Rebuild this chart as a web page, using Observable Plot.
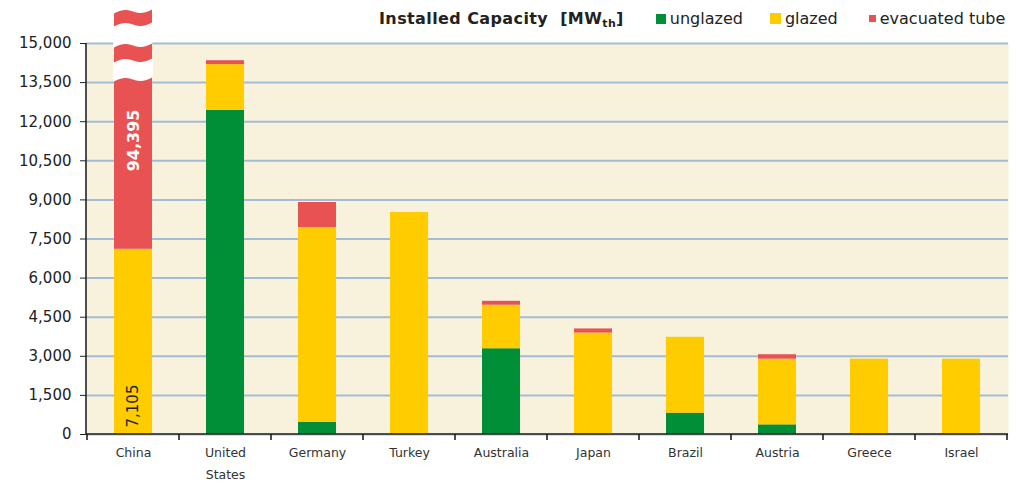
<!DOCTYPE html>
<html>
<head>
<meta charset="utf-8">
<script src="https://cdn.jsdelivr.net/npm/d3@7"></script>
<script src="https://cdn.jsdelivr.net/npm/@observablehq/plot@0.6"></script>
<style>
  body { margin: 0; background: #fff; font-family: "DejaVu Sans", sans-serif; }
  #wrap { position: relative; width: 1017px; height: 484px; }
  #legend { position: absolute; top: 9px; left: 379px; display: flex; align-items: center;
            font-size: 16px; color: #222; white-space: nowrap; line-height: 19px; }
  #legend .title { font-weight: bold; margin-right: 32px; font-size: 16px; letter-spacing: 0.4px; }
  #legend .title sub { font-size: 11px; vertical-align: -3px; line-height: 0; }
  #legend .sw { display: inline-block; margin-right: 4px; }
  #legend .item { display: flex; align-items: center; }
</style>
</head>
<body>
<div id="wrap">
  <div id="chart"></div>
  <div id="legend"></div>
</div>
<script>
// ---- data ----
const countries = ["China", "United States", "Germany", "Turkey", "Australia", "Japan", "Brazil", "Austria", "Greece", "Israel"];
const countryLabels = ["China", "United\nStates", "Germany", "Turkey", "Australia", "Japan", "Brazil", "Austria", "Greece", "Israel"];
const unglazed  = [0, 12430, 460, 0, 3290, 0, 820, 370, 0, 0];
const glazed    = [7105, 1760, 7480, 8515, 1670, 3890, 2910, 2520, 2890, 2890];
const evacuated = [94395, 150, 960, 0, 150, 160, 0, 170, 0, 0];
const seriesNames  = ["unglazed", "glazed", "evacuated tube"];
const seriesColors = ["#008e36", "#ffcc00", "#e85252"];
const yTicks = [0, 1500, 3000, 4500, 6000, 7500, 9000, 10500, 12000, 13500, 15000];
const axisMax = 15000;
const breakTop = 16400;   // display top of a bar that runs past the axis (axis break)

// ---- build stacked rows ----
const seriesValues = [unglazed, glazed, evacuated];
const rows = [];
countries.forEach((c, i) => {
  let base = 0;
  seriesNames.forEach((s, k) => {
    const v = seriesValues[k][i];
    if (v > 0) {
      rows.push({country: c, series: s, value: v, y1: base, y2: Math.min(base + v, breakTop)});
    }
    base += v;
  });
});
const labelMap = new Map(countries.map((c, i) => [c, countryLabels[i]]));

// value labels on the China bar
const valueLabels = [
  {country: "China", y: (glazed[0] + axisMax) / 2, text: d3.format(",")(evacuated[0]), kind: "big"},
  {country: "China", y: 0, text: d3.format(",")(glazed[0]), kind: "small"}
];

const pInner = 0.587, pOuter = pInner / 2;

// axis lines + boundary ticks on x
function axesMark(index, scales, values, dims) {
  const x = scales.x, y = scales.y;
  const step = x(countries[1]) - x(countries[0]);
  const bw = typeof x.bandwidth === "function" ? x.bandwidth() : step * (1 - pInner);
  const gap = (step - bw) / 2;
  const y0 = y(0);
  const g = d3.create("svg:g").attr("stroke", "#222").attr("stroke-width", 1.6);
  const bounds = countries.map(c => x(c) - gap).concat([x(countries[countries.length - 1]) + bw + gap]);
  for (const bx of bounds) {
    g.append("line").attr("x1", bx).attr("x2", bx).attr("y1", y0).attr("y2", y0 + 6);
  }
  g.append("line").attr("x1", dims.marginLeft).attr("x2", dims.width - dims.marginRight)
    .attr("y1", y0).attr("y2", y0);
  g.append("line").attr("x1", dims.marginLeft).attr("x2", dims.marginLeft)
    .attr("y1", dims.marginTop).attr("y2", y0);
  return g.node();
}

// wavy white break across the truncated China bar
function breakMark(index, scales, values, dims) {
  const x = scales.x, y = scales.y;
  const step = x(countries[1]) - x(countries[0]);
  const bw = typeof x.bandwidth === "function" ? x.bandwidth() : step * (1 - pInner);
  const x0 = x("China") - 0.8, x1 = x("China") + bw + 0.8;
  const top = y(axisMax);
  const N = 24, tilt = 5, amp = 2.6;
  const edge = base => d3.range(N + 1).map(j => {
    const t = j / N;
    return [x0 + (x1 - x0) * t, base - tilt * t - amp * Math.sin(2 * Math.PI * t)];
  });
  const band = (a, b) => {
    const e1 = edge(a), e2 = edge(b).reverse();
    return "M" + e1.concat(e2).map(p => p.join(",")).join("L") + "Z";
  };
  const g = d3.create("svg:g").attr("fill", "#fff");
  const topEdge = edge(top - 29);
  g.append("path").attr("d", "M" + [[x0, -10], [x1, -10]].concat(topEdge.slice().reverse()).map(p => p.join(",")).join("L") + "Z");
  g.append("path").attr("d", band(top - 16, top + 5));
  g.append("path").attr("d", band(top + 20, top + 39));
  return g.node();
}

const plot = Plot.plot({
  width: 1017,
  height: 484,
  marginLeft: 86,
  marginRight: 9,
  marginTop: 43,
  marginBottom: 50,
  style: {fontFamily: "DejaVu Sans, sans-serif", background: "transparent", overflow: "visible"},
  x: {domain: countries, paddingInner: pInner, paddingOuter: pOuter, label: null, axis: null},
  y: {domain: [0, axisMax], label: null, axis: null},
  color: {domain: seriesNames, range: seriesColors},
  marks: [
    Plot.frame({fill: "#f8f2dc", stroke: null}),
    Plot.gridY(yTicks, {stroke: "#a3bcd5", strokeOpacity: 1, strokeWidth: 2}),
    Plot.barY(rows, {x: "country", y1: "y1", y2: "y2", fill: "series"}),
    breakMark,
    Plot.text(valueLabels.filter(d => d.kind === "big"), {
      x: "country", y: "y", text: "text", rotate: -90, fill: "#fff",
      fontWeight: "bold", fontSize: 16, dy: -6
    }),
    Plot.text(valueLabels.filter(d => d.kind === "small"), {
      x: "country", y: "y", text: "text", rotate: -90, fill: "#222",
      fontSize: 15, textAnchor: "start", dy: -7
    }),
    Plot.axisY({ticks: yTicks, tickFormat: d3.format(","), tickSize: 6, tickPadding: 9,
                fontSize: 15, color: "#222", label: null}),
    Plot.axisX({tickSize: 0, tickPadding: 7, fontSize: 12.5, lineHeight: 1.75, color: "#333",
                tickFormat: d => labelMap.get(d), label: null}),
    axesMark
  ]
});
document.getElementById("chart").appendChild(plot);

// ---- legend ----
const legend = document.getElementById("legend");
const title = document.createElement("span");
title.className = "title";
title.innerHTML = "Installed Capacity&nbsp;&nbsp;[MW<sub>th</sub>]";
legend.appendChild(title);
const swSizes = [10, 11, 7];
const gapsAfter = [27, 31, 0];
seriesNames.forEach((s, k) => {
  const item = document.createElement("span");
  item.className = "item";
  item.style.marginRight = gapsAfter[k] + "px";
  const sw = document.createElement("span");
  sw.className = "sw";
  sw.style.width = swSizes[k] + "px";
  sw.style.height = swSizes[k] + "px";
  sw.style.background = seriesColors[k];
  const lab = document.createElement("span");
  lab.textContent = s;
  item.appendChild(sw);
  item.appendChild(lab);
  legend.appendChild(item);
});
</script>
</body>
</html>
